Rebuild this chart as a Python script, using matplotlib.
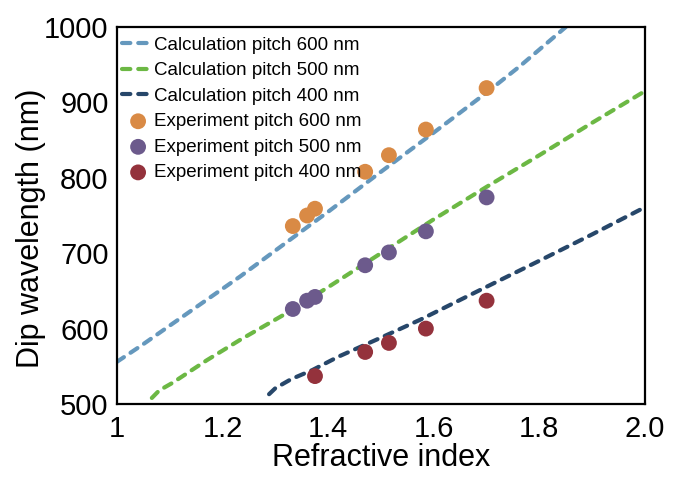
import matplotlib
matplotlib.use("Agg")
import matplotlib.pyplot as plt

plt.rcParams['font.family'] = ['Liberation Sans', 'DejaVu Sans']

# calculated dip positions
calc600_n = [1.0, 1.047, 1.10, 1.233, 1.328, 1.40, 1.50, 1.60, 1.70, 1.763, 1.85]
calc600_wl = [556, 578, 604, 669, 718, 755, 808, 860, 913, 948, 1000]

calc500_n = [1.066, 1.08, 1.105, 1.17, 1.233, 1.32, 1.40, 1.50, 1.60, 1.70, 1.80, 1.90, 2.0]
calc500_wl = [508, 518, 528, 558, 585, 620, 655, 700, 745, 788, 830, 873, 915]

calc400_n = [1.288, 1.30, 1.33, 1.37, 1.42, 1.50, 1.575, 1.69, 1.80, 1.90, 2.0]
calc400_wl = [513, 521, 533, 545, 563, 588, 612, 652, 690, 725, 761]

# measured dips
exp_n = [1.333, 1.36, 1.375, 1.47, 1.515, 1.585, 1.70]
exp600_wl = [736, 750, 759, 808, 830, 864, 919]
exp500_wl = [626, 637, 642, 684, 701, 729, 774]
exp400_n = [1.375, 1.47, 1.515, 1.585, 1.70]
exp400_wl = [537, 569, 581, 600, 637]

xticks = [1.0, 1.2, 1.4, 1.6, 1.8, 2.0]
xtick_labels = ['1', '1.2', '1.4', '1.6', '1.8', '2.0']
yticks = [500, 600, 700, 800, 900, 1000]

fig = plt.figure(figsize=(6.73, 4.84), dpi=100)
ax = fig.add_axes([117 / 673, 80 / 484, 528 / 673, 377 / 484])

line_kw = dict(lw=3.0, dashes=(2.0, 1.9), dash_capstyle='round')
ax.plot(calc600_n, calc600_wl, color='#6598bd', label='Calculation pitch 600 nm', **line_kw)
ax.plot(calc500_n, calc500_wl, color='#6cb844', label='Calculation pitch 500 nm', **line_kw)
ax.plot(calc400_n, calc400_wl, color='#27476a', label='Calculation pitch 400 nm', **line_kw)

sc_kw = dict(s=130, edgecolors='none', zorder=3)
ax.scatter(exp_n, exp600_wl, color='#d98a45', label='Experiment pitch 600 nm', **sc_kw)
ax.scatter(exp_n, exp500_wl, color='#6c5a8c', label='Experiment pitch 500 nm', **sc_kw)
ax.scatter(exp400_n, exp400_wl, color='#94323c', label='Experiment pitch 400 nm', **sc_kw)

ax.set_xlim(1.0, 2.0)
ax.set_ylim(500, 1000)
ax.set_xticks(xticks)
ax.set_xticklabels(xtick_labels)
ax.set_yticks(yticks)
ax.tick_params(axis='x', length=0, labelsize=21, pad=8)
ax.tick_params(axis='y', length=0, labelsize=21, pad=6)
for sp in ax.spines.values():
    sp.set_linewidth(1.6)
    sp.set_color('black')

ax.set_xlabel('Refractive index', fontsize=22, labelpad=0)
ax.set_ylabel('Dip wavelength (nm)', fontsize=22)
ax.yaxis.set_label_coords(-0.135, 0.465)

ax.legend(loc='upper left', bbox_to_anchor=(-0.008, 1.0), frameon=False,
          fontsize=13.5, handlelength=1.7, handletextpad=0.0,
          labelspacing=0.45, borderaxespad=0.0, borderpad=0.5)

fig.savefig('out.png', dpi=100)
